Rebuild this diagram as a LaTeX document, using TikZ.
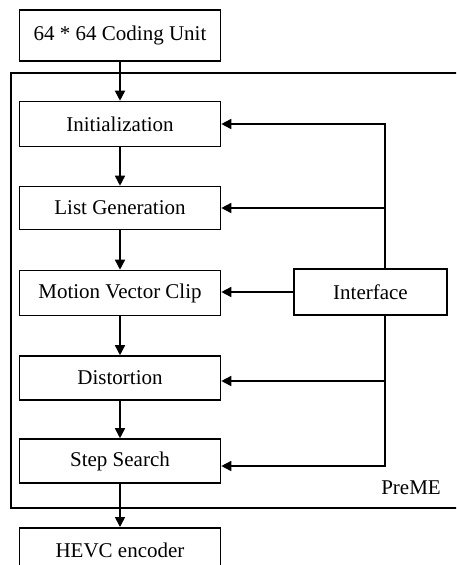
\documentclass[tikz,border=0pt]{standalone}
\usepackage{fontspec}
\setmainfont{Liberation Serif}
\usetikzlibrary{arrows.meta}
\begin{document}
\begin{tikzpicture}[x=1pt,y=-1pt,
  box/.style={draw, line width=1.6pt, minimum width=201pt, minimum height=45pt, inner sep=0pt, font=\fontsize{21}{25}\selectfont},
  lbl/.style={inner sep=0pt, font=\fontsize{21}{25}\selectfont},
  arr/.style={line width=1.6pt, -{Triangle[length=10pt,width=10pt]}},
  conn/.style={line width=1.6pt}]
\useasboundingbox (0,0) rectangle (456,565);
\clip (0,0) rectangle (456,565);
\node[draw, line width=1.6pt, anchor=north west, minimum width=470pt, minimum height=435pt, inner sep=0pt] (frame) at (10,72) {};
\node[lbl] (preme) at (411,488) {PreME};
\node[box, minimum height=51pt] (cu) at (120,35.5) {64 * 64 Coding Unit};
\node[box] (init) at (120,124) {Initialization};
\node[box, minimum height=43pt] (list) at (120,208) {List Generation};
\node[box] (mvc) at (120,293) {Motion Vector Clip};
\node[box, minimum height=44pt] (dist) at (120,378) {Distortion};
\node[box, minimum height=44pt] (step) at (120,461) {Step Search};
\node[box, anchor=north, minimum height=50pt] (hevc) at (120,527) {};
\node[lbl] (hevct) at (120,550) {HEVC encoder};
\node[box, minimum width=153pt, minimum height=46pt] (iface) at (370.5,292) {Interface};
\coordinate (vx) at (385,0);
\draw[arr] (cu) -- (init);
\draw[arr] (init) -- (list);
\draw[arr] (list) -- (mvc);
\draw[arr] (mvc) -- (dist);
\draw[arr] (dist) -- (step);
\draw[arr] (step) -- (hevc);
\draw[arr] (iface.west) -- (mvc.east |- iface.west);
\draw[arr] (iface.north -| vx) |- (init.east);
\draw[arr] (vx |- list.east) -- (list.east);
\draw[arr] (iface.south -| vx) |- ([yshift=-5pt]step.east);
\draw[arr] (vx |- dist.east) ++(0,3) -- ([yshift=-3pt]dist.east);
\end{tikzpicture}
\end{document}
